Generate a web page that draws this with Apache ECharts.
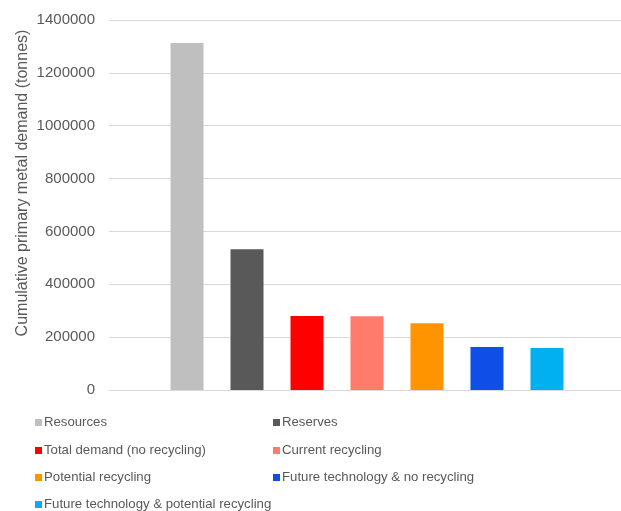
<!DOCTYPE html>
<html>
<head>
<meta charset="utf-8">
<script src="https://cdn.jsdelivr.net/npm/echarts@6/dist/echarts.min.js"></script>
<style>html,body{margin:0;padding:0;background:#fff;overflow:hidden;}#c{width:625px;height:511px;}</style>
</head>
<body>
<div id="c"></div>
<script>
const categories = [''];
const seriesNames = ['Resources', 'Reserves', 'Total demand (no recycling)', 'Current recycling', 'Potential recycling', 'Future technology & no recycling', 'Future technology & potential recycling'];
const seriesValues = [1313000, 533000, 280000, 279000, 253000, 163000, 159000];
const seriesColors = ['#BFBFBF', '#595959', '#FF0000', '#FF7B6B', '#FF9400', '#0F4FE8', '#00B0F0'];
const yTicks = [0, 200000, 400000, 600000, 800000, 1000000, 1200000, 1400000];
const yTitle = 'Cumulative primary metal demand (tonnes)';

const font = 'Liberation Sans, Arial, sans-serif';
const textColor = '#595959';

const chart = echarts.init(document.getElementById('c'), null, {renderer: 'canvas'});

const legendCols = [35, 273];
const legendRows = [416, 444, 471, 498];
const legends = seriesNames.map((n, i) => ({
  data: [n],
  left: legendCols[i % 2],
  top: legendRows[Math.floor(i / 2)],
  padding: 0,
  icon: 'rect',
  itemWidth: 7,
  itemHeight: 7,
  itemGap: 0,
  selectedMode: false,
  textStyle: {fontFamily: font, fontSize: 13.2, color: textColor, padding: [0, 0, 0, -3]}
}));

chart.setOption({
  animation: false,
  backgroundColor: '#fff',
  grid: {left: 109, right: 0, top: 20, bottom: 121, containLabel: false},
  legend: legends,
  xAxis: {
    type: 'category',
    data: categories,
    axisLine: {show: true, lineStyle: {color: '#D9D9D9', width: 1}},
    axisTick: {show: false},
    axisLabel: {show: false}
  },
  yAxis: {
    type: 'value',
    min: yTicks[0],
    max: yTicks[yTicks.length - 1],
    interval: yTicks[1] - yTicks[0],
    name: yTitle,
    nameLocation: 'middle',
    nameGap: 78,
    nameMoveOverlap: false,
    nameTextStyle: {fontFamily: font, fontSize: 16, color: textColor, padding: [0, 0, 0, 44]},
    axisLine: {show: false},
    axisTick: {show: false},
    axisLabel: {fontFamily: font, fontSize: 15, color: textColor, margin: 14, formatter: v => String(v)},
    splitLine: {lineStyle: {color: '#D9D9D9', width: 1}}
  },
  series: seriesNames.map((n, i) => ({
    name: n,
    type: 'bar',
    data: [seriesValues[i]],
    barWidth: 33,
    barGap: '81.8%',
    itemStyle: {color: seriesColors[i]}
  }))
});
</script>
</body>
</html>
